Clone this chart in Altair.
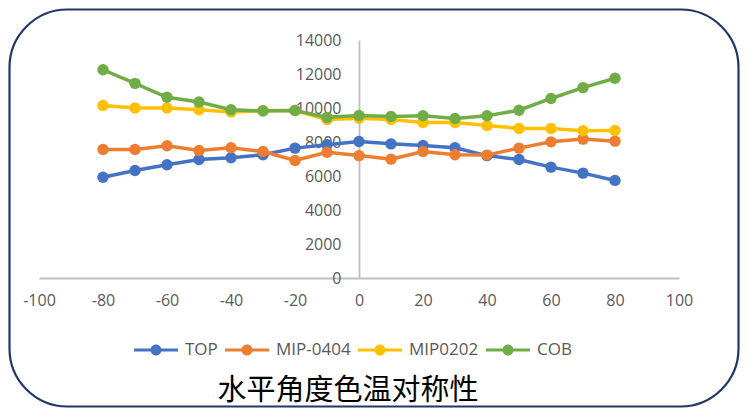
import altair as alt
import pandas as pd

angles = [-80, -70, -60, -50, -40, -30, -20, -10, 0, 10, 20, 30, 40, 50, 60, 70, 80]
top_vals = [5930, 6320, 6660, 6970, 7070, 7250, 7640, 7840, 8030, 7890, 7790, 7660, 7200, 6970, 6520, 6170, 5740]
mip0404_vals = [7560, 7560, 7780, 7500, 7660, 7440, 6910, 7400, 7200, 6990, 7440, 7250, 7230, 7640, 8010, 8170, 8050]
mip0202_vals = [10150, 10000, 10000, 9900, 9760, 9850, 9850, 9320, 9400, 9320, 9150, 9150, 8970, 8800, 8790, 8660, 8680]
cob_vals = [12250, 11450, 10630, 10350, 9900, 9820, 9850, 9450, 9560, 9500, 9540, 9380, 9540, 9870, 10560, 11200, 11750]

series_names = ["TOP", "MIP-0404", "MIP0202", "COB"]
series_colors = ["#4472C4", "#ED7D31", "#FFC000", "#70AD47"]
x_ticks = [-100, -80, -60, -40, -20, 0, 20, 40, 60, 80, 100]
y_ticks = [0, 2000, 4000, 6000, 8000, 10000, 12000, 14000]
title_text = "水平角度色温对称性"

rows = []
for name, vals in zip(series_names, [top_vals, mip0404_vals, mip0202_vals, cob_vals]):
    for a, v in zip(angles, vals):
        rows.append({"angle": a, "value": v, "series": name})
df = pd.DataFrame(rows)

FONT = "Open Sans"
GRAY = "#595959"
AXIS_COL = "#BFBFBF"

W, H = 640, 238
PAD = {"left": 31, "top": 32, "right": 61, "bottom": 130}

x_enc = alt.X("angle:Q",
              scale=alt.Scale(domain=[-100, 100], nice=False, zero=False),
              axis=alt.Axis(values=x_ticks, title=None, grid=False, ticks=False,
                            domainColor=AXIS_COL, domainWidth=1.8,
                            labelExpr="'' + datum.value",
                            labelFont=FONT, labelFontSize=16, labelColor=GRAY,
                            labelPadding=14, labelFlush=False))
y_enc = alt.Y("value:Q",
              scale=alt.Scale(domain=[0, 14000], nice=False),
              axis=alt.Axis(values=y_ticks, title=None, grid=False, ticks=False,
                            offset=-W / 2, domainColor=AXIS_COL, domainWidth=1.8,
                            labelExpr="'' + datum.value",
                            labelFont=FONT, labelFontSize=16, labelColor=GRAY,
                            labelPadding=18, labelFlush=False, labelBound=False))

legend_path = ("M-1,-0.07L1,-0.07L1,0.07L-1,0.07Z "
               "M-0.25,0A0.25,0.25,0,1,1,0.25,0A0.25,0.25,0,1,1,-0.25,0Z")

frame = alt.Chart(pd.DataFrame({"k": [0]})).mark_rect(
    fill="white", fillOpacity=0, stroke="#1F3864", strokeWidth=2.2, cornerRadius=58
).encode(
    x=alt.value(-PAD["left"] + 1.5), x2=alt.value(W + PAD["right"] - 1.5),
    y=alt.value(-PAD["top"] + 1.5), y2=alt.value(H + PAD["bottom"] - 1.5)
)

legend = alt.Legend(title=None, orient="none", legendX=95, legendY=288,
                    direction="horizontal",
                    symbolType=legend_path, symbolSize=1936,
                    symbolOpacity=1, symbolStrokeWidth=0,
                    labelFont=FONT, labelFontSize=17, labelColor=GRAY,
                    labelOffset=7, columnPadding=7)

layers = [frame]
for i, name in enumerate(series_names):
    base = alt.Chart(df).transform_filter(alt.datum.series == name)
    line = base.mark_line(strokeWidth=3.5, color=series_colors[i]).encode(x=x_enc, y=y_enc)
    pts = base.mark_circle(size=130, opacity=1).encode(
        x=x_enc, y=y_enc,
        fill=alt.Fill("series:N", scale=alt.Scale(domain=series_names, range=series_colors),
                      legend=legend),
    )
    layers += [line, pts]

chart = alt.layer(*layers).properties(
    width=W, height=H,
    autosize=alt.AutoSizeParams(type="none"),
    padding=PAD,
    title=alt.TitleParams(title_text, orient="bottom", anchor="middle", font="Noto Sans CJK SC",
                          fontSize=29, fontWeight="normal", color="#000000", offset=-31, dx=-11),
).configure_view(stroke=None)

chart.save("out.html", embed_options={"renderer": "svg", "actions": False})
